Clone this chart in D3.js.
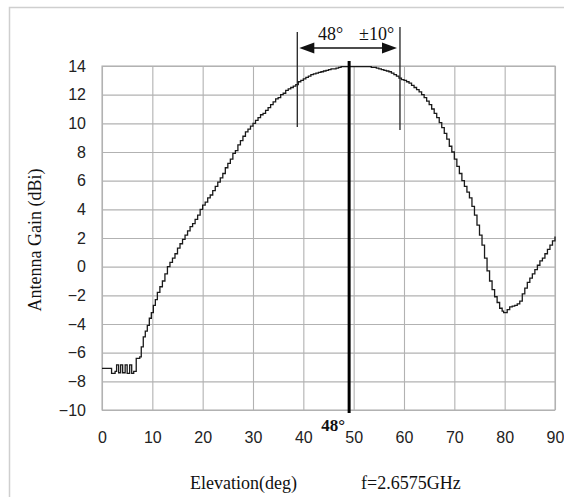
<!DOCTYPE html>
<html>
<head>
<meta charset="utf-8">
<script src="https://cdn.jsdelivr.net/npm/d3@7"></script>
<style>
  html, body { margin: 0; padding: 0; background: #fff; }
  svg { display: block; }
</style>
</head>
<body>
<svg id="chart" width="564" height="497"></svg>
<script>
// ---- data ----
const elevationTicks = [0, 10, 20, 30, 40, 50, 60, 70, 80, 90];
const gainTicks = [-10, -8, -6, -4, -2, 0, 2, 4, 6, 8, 10, 12, 14];
// [elevation (deg), antenna gain (dBi)]
const gainCurve = [
  [0,-7.1],[1.9,-7.45],[2.6,-7.3],[2.9,-6.85],[3.3,-7.4],[3.7,-6.85],[4.1,-7.4],[4.6,-6.85],
  [5.0,-7.45],[5.5,-6.85],[5.9,-7.45],[6.3,-7.3],[6.8,-6.4],[7.5,-6.3],[7.8,-5.6],[8.2,-4.9],
  [8.6,-4.5],[9.0,-4.1],[9.4,-3.6],[9.8,-3.2],[10.2,-2.7],[10.6,-2.3],[11.0,-1.8],[11.5,-1.4],
  [12,-1.0],[12.5,-0.5],[13,0.0],[13.5,0.3],[14,0.6],[14.5,0.9],[15,1.3],[15.5,1.6],
  [16,1.9],[16.5,2.2],[17,2.5],[17.5,2.8],[18,3.0],[18.5,3.3],[19,3.6],[19.5,4.0],
  [20,4.3],[20.5,4.5],[21,4.8],[21.5,5.0],[22,5.3],[22.5,5.6],[23,5.9],[23.5,6.2],
  [24,6.5],[24.5,6.9],[25,7.2],[25.5,7.5],[26,7.9],[26.5,8.1],[27,8.5],[27.5,8.8],
  [28,9.1],[28.5,9.4],[29,9.6],[29.5,9.8],[30,10.0],[30.5,10.2],[31,10.4],[31.5,10.6],
  [32,10.7],[32.5,10.9],[33,11.1],[33.5,11.3],[34,11.5],[34.5,11.7],[35,11.8],[35.5,12.0],
  [36,12.1],[36.5,12.3],[37,12.4],[37.5,12.5],[38,12.6],[38.5,12.7],[39,12.9],[39.5,13.0],
  [40,13.1],[40.5,13.2],[41,13.3],[41.5,13.4],[42,13.45],[42.5,13.5],[43,13.55],[43.5,13.6],
  [44,13.65],[44.5,13.7],[45,13.75],[45.5,13.8],[46,13.8],[46.5,13.85],[47,13.9],[47.5,13.95],
  [53,13.95],[53.5,13.9],[54,13.9],[54.5,13.85],[55,13.8],[55.5,13.75],[56,13.7],[56.5,13.65],
  [57,13.6],[57.5,13.5],[58,13.4],[58.5,13.3],[59,13.15],[59.5,13.05],[60,13.0],[60.5,12.9],
  [61,12.8],[61.5,12.65],[62,12.5],[62.5,12.35],[63,12.2],[63.5,12.0],[64,11.8],[64.5,11.55],
  [65,11.3],[65.5,11.0],[66,10.7],[66.5,10.4],[67,10.05],[67.5,9.7],[68,9.3],[68.5,8.9],
  [69,8.4],[69.5,8.0],[70,7.5],[70.5,7.0],[71,6.5],[71.5,6.0],[72,5.6],[72.5,5.2],
  [73,4.8],[73.5,4.2],[74,3.6],[74.5,2.9],[75,2.2],[75.5,1.5],[76,0.6],[76.5,-0.3],
  [77,-1.0],[77.5,-1.6],[78,-2.1],[78.5,-2.5],[79,-2.9],[79.5,-3.1],[79.8,-3.2],[80.5,-3.0],
  [81,-2.8],[81.5,-2.75],[82,-2.7],[82.5,-2.6],[83,-2.4],[83.5,-1.9],[84,-1.5],[84.5,-1.1],
  [85,-0.8],[85.5,-0.5],[86,-0.2],[86.5,0.1],[87,0.4],[87.5,0.6],[88,0.9],[88.5,1.2],
  [89,1.5],[89.5,1.8],[90,2.1]
];
// annotation positions (deg): beam-width markers and beam centre
const beamMarkers = [38.8, 59.2];
const beamCenter = 49.1;
const beamLabel = "48°";
const beamRangeLabel = "±10°";

// ---- layout ----
const svg = d3.select("#chart");
const plot = { left: 102, right: 555, top: 66, bottom: 410 };
const x = d3.scaleLinear().domain([0, 90]).range([plot.left, plot.right]);
const y = d3.scaleLinear().domain([-10, 14]).range([plot.bottom, plot.top]);
const gridColor = "#b2b2b2";
const serif = "'Liberation Serif', 'DejaVu Serif', serif";
const sans = "'Liberation Sans', Arial, sans-serif";

svg.append("rect").attr("width", 564).attr("height", 497).attr("fill", "#fff");
// outer frame (top and left edges visible)
svg.append("path").attr("d", "M9.5,497V7.5H564")
  .attr("fill", "none").attr("stroke", "#cfcfcf").attr("stroke-width", 1.5);

// y axis with horizontal grid
const gy = svg.append("g").attr("transform", `translate(${plot.left},0)`)
  .call(d3.axisLeft(y).tickValues(gainTicks).tickSize(-(plot.right - plot.left)).tickPadding(16));
gy.select(".domain").remove();
gy.selectAll(".tick line").attr("stroke", gridColor).attr("stroke-width", 1.1);
gy.selectAll(".tick text").attr("font-family", sans).attr("font-size", 16).attr("fill", "#222");

// x axis with vertical grid
const gx = svg.append("g").attr("transform", `translate(0,${plot.bottom})`)
  .call(d3.axisBottom(x).tickValues(elevationTicks).tickSize(-(plot.bottom - plot.top)).tickPadding(22));
gx.select(".domain").remove();
gx.selectAll(".tick line").attr("stroke", gridColor).attr("stroke-width", 1.1);
gx.selectAll(".tick text").attr("font-family", sans).attr("font-size", 16).attr("fill", "#222");

svg.append("rect")
  .attr("x", plot.left).attr("y", plot.top)
  .attr("width", plot.right - plot.left).attr("height", plot.bottom - plot.top)
  .attr("fill", "none").attr("stroke", gridColor).attr("stroke-width", 1.1);

// gain curve (stair-stepped, as digitised)
const line = d3.line().x(d => x(d[0])).y(d => y(d[1])).curve(d3.curveStepAfter);
svg.append("path").datum(gainCurve)
  .attr("d", line).attr("fill", "none").attr("stroke", "#1a1a1a")
  .attr("stroke-width", 1.3).attr("stroke-linejoin", "miter");

// beam-width markers
const markerTops = [32, 27];
const markerBottoms = [127, 130];
beamMarkers.forEach((m, i) => {
  svg.append("line").attr("x1", x(m)).attr("x2", x(m))
    .attr("y1", markerTops[i]).attr("y2", markerBottoms[i])
    .attr("stroke", "#222").attr("stroke-width", 1.3);
});
// double arrow
const ay = 48;
const ax1 = x(beamMarkers[0]) + 2, ax2 = x(beamMarkers[1]) - 3;
svg.append("line").attr("x1", ax1 + 10).attr("x2", ax2 - 10).attr("y1", ay).attr("y2", ay)
  .attr("stroke", "#111").attr("stroke-width", 1.5);
svg.append("path").attr("d", `M${ax1},${ay}L${ax1 + 15},${ay - 5.5}L${ax1 + 15},${ay + 5.5}Z`).attr("fill", "#111");
svg.append("path").attr("d", `M${ax2},${ay}L${ax2 - 15},${ay - 5.5}L${ax2 - 15},${ay + 5.5}Z`).attr("fill", "#111");

// beam centre line
svg.append("line").attr("x1", x(beamCenter)).attr("x2", x(beamCenter))
  .attr("y1", 61).attr("y2", 413).attr("stroke", "#000").attr("stroke-width", 3);

// texts
svg.append("text").attr("x", 318).attr("y", 40).attr("font-family", serif).attr("font-size", 18)
  .attr("fill", "#111").text(beamLabel);
svg.append("text").attr("x", 359).attr("y", 40).attr("font-family", serif).attr("font-size", 18)
  .attr("fill", "#111").text(beamRangeLabel);
svg.append("text").attr("x", 345).attr("y", 431).attr("text-anchor", "end")
  .attr("font-family", serif).attr("font-size", 17).attr("font-weight", "bold")
  .attr("fill", "#111").text(beamLabel);

svg.append("text").attr("transform", "translate(41,240) rotate(-90)")
  .attr("text-anchor", "middle").attr("font-family", serif).attr("font-size", 18)
  .attr("fill", "#111").text("Antenna Gain (dBi)");
svg.append("text").attr("x", 190).attr("y", 489).attr("font-family", serif).attr("font-size", 18)
  .attr("fill", "#111").text("Elevation(deg)");
svg.append("text").attr("x", 361).attr("y", 489).attr("font-family", serif).attr("font-size", 18)
  .attr("fill", "#111").text("f=2.6575GHz");
</script>
</body>
</html>
